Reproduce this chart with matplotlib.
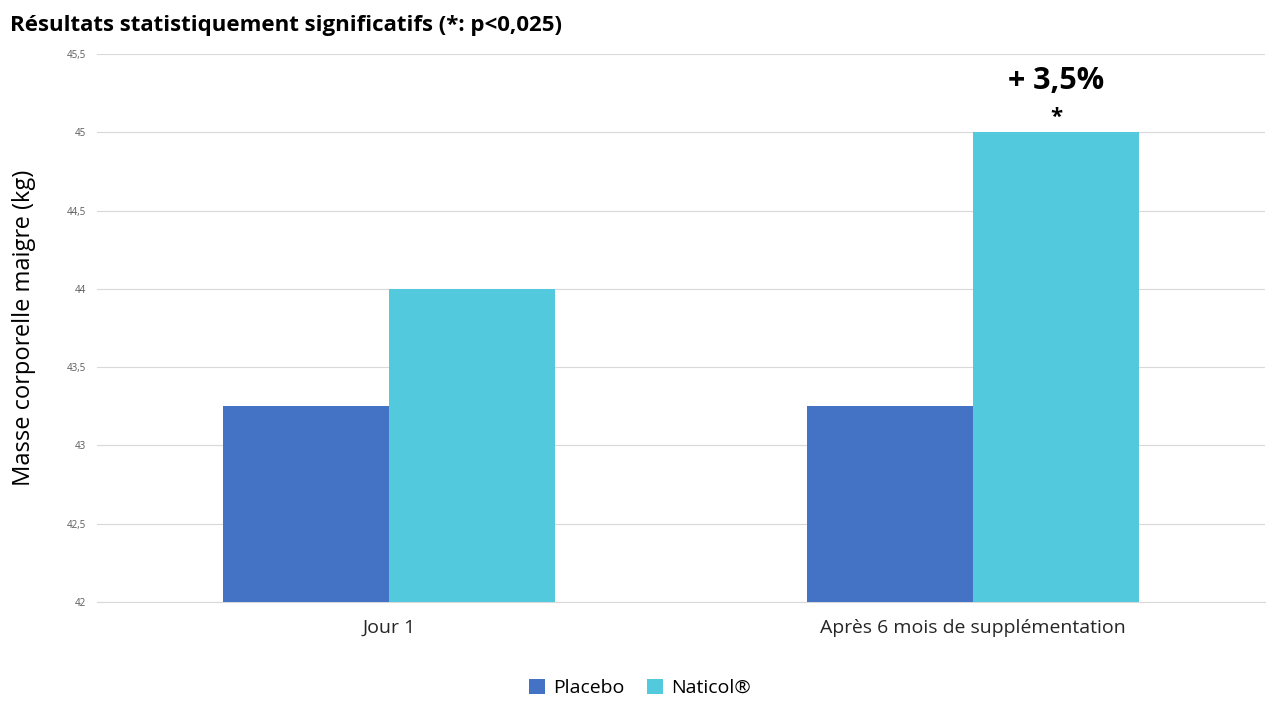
import matplotlib.pyplot as plt
import numpy as np

categories = ["Jour 1", "Après 6 mois de supplémentation"]
placebo = [43.25, 43.25]
naticol = [44.0, 45.0]
yticks = [42, 42.5, 43, 43.5, 44, 44.5, 45, 45.5]

plt.rcParams["font.family"] = "Open Sans"

fig = plt.figure(figsize=(12.8, 7.2), dpi=100)
ax = fig.add_axes([97 / 1280, 1 - 602 / 720, 1168 / 1280, 548 / 720])

x = np.arange(len(categories))
w = 0.285
ax.bar(x - w / 2, [p - 42 for p in placebo], w, bottom=42, color="#4472C4", label="Placebo", zorder=3)
ax.bar(x + w / 2, [n - 42 for n in naticol], w, bottom=42, color="#52C9DC", label="Naticol®", zorder=3)

ax.set_xlim(-0.5, 1.5)
ax.set_ylim(42, 45.5)
ax.set_yticks(yticks)
ax.set_yticklabels([f"{t:g}".replace(".", ",") for t in yticks], fontsize=7, color="#595959")
ax.set_xticks(x)
ax.set_xticklabels(categories, fontsize=14, color="#262626")
ax.tick_params(length=0, pad=8)
ax.tick_params(axis="x", pad=12)
ax.grid(axis="y", color="#D9D9D9", linewidth=0.8, zorder=0)
for s in ax.spines.values():
    s.set_visible(False)
ax.spines["bottom"].set_visible(True)
ax.spines["bottom"].set_color("#D9D9D9")

ax.set_ylabel("Masse corporelle maigre (kg)", fontsize=17, labelpad=22)

ax.text(1 + w / 2, naticol[1] + 0.23, "+ 3,5%", ha="center", va="bottom", fontsize=22, fontweight="bold")
ax.text(1 + w / 2, naticol[1] + 0.03, "*", ha="center", va="bottom", fontsize=16, fontweight="bold")

fig.text(10 / 1280, 1 - 26 / 720, "Résultats statistiquement significatifs (*: p<0,025)",
         fontsize=16, fontweight="bold", va="center", ha="left")

fig.legend(loc="center", bbox_to_anchor=(0.5, 1 - 688 / 720), ncol=2, frameon=False,
           fontsize=14, handlelength=0.8, handleheight=0.8, columnspacing=1.2, handletextpad=0.4)

fig.savefig("out.png", dpi=100)
